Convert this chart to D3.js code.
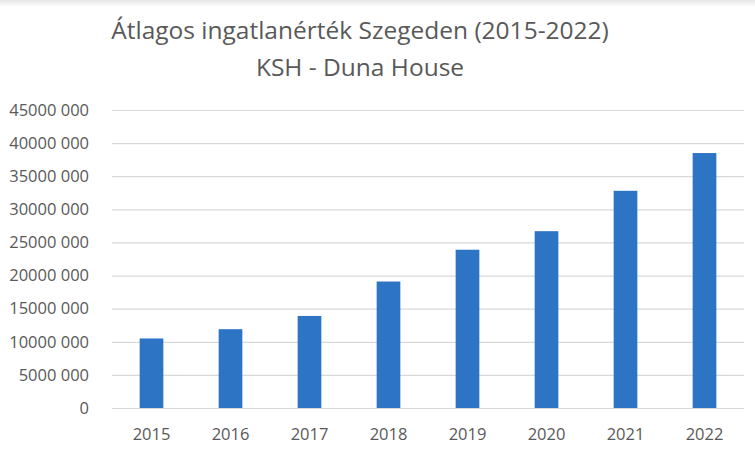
<!DOCTYPE html>
<html>
<head>
<meta charset="utf-8">
<script src="https://cdn.jsdelivr.net/npm/d3@7"></script>
<style>
  html, body { margin: 0; padding: 0; background: #ffffff; }
  svg { display: block; }
  text { font-family: "Open Sans", "Noto Sans", sans-serif; fill: #595959; }
</style>
</head>
<body>
<div id="chart"></div>
<script>
// adatok (Ft)
const years = ["2015", "2016", "2017", "2018", "2019", "2020", "2021", "2022"];
const avgValues = [10500000, 11900000, 13900000, 19100000, 23900000, 26700000, 32800000, 38500000];
const yTicks = [0, 5000000, 10000000, 15000000, 20000000, 25000000, 30000000, 35000000, 40000000, 45000000];
const titleLines = ["Átlagos ingatlanérték Szegeden (2015-2022)", "KSH - Duna House"];

const width = 755, height = 453;
const margin = {top: 110, right: 11, bottom: 45, left: 112};

const svg = d3.select("#chart").append("svg")
    .attr("width", width)
    .attr("height", height);

// halvány árnyék a kép tetején
const grad = svg.append("defs").append("linearGradient")
    .attr("id", "topShade").attr("x1", 0).attr("y1", 0).attr("x2", 0).attr("y2", 1);
grad.append("stop").attr("offset", 0).attr("stop-color", "#e6e6e6");
grad.append("stop").attr("offset", 1).attr("stop-color", "#ffffff");
svg.append("rect").attr("x", 0).attr("y", 0).attr("width", width).attr("height", 7)
    .attr("fill", "url(#topShade)");

const x = d3.scaleBand()
    .domain(years)
    .range([margin.left, width - margin.right])
    .paddingInner(0.7)
    .paddingOuter(0.35);

const y = d3.scaleLinear()
    .domain([0, 45000000])
    .range([height - margin.bottom, margin.top]);

// "45000 000" formátum: csak az utolsó három jegy előtt szóköz
function fmt(v) {
    if (v === 0) return "0";
    const s = String(v);
    return s.slice(0, s.length - 3) + " " + s.slice(-3);
}

// rácsvonalak
const yAxis = d3.axisLeft(y)
    .tickValues(yTicks)
    .tickSize(-(width - margin.right - margin.left))
    .tickFormat(fmt)
    .tickPadding(23);

const gy = svg.append("g")
    .attr("transform", "translate(" + margin.left + ",0)")
    .call(yAxis);
gy.select(".domain").remove();
gy.selectAll(".tick line").attr("stroke", "#d9d9d9").attr("stroke-width", 1.2);
gy.selectAll(".tick text")
    .attr("font-size", 16.5)
    .attr("fill", "#595959");

// oszlopok
svg.append("g")
    .selectAll("rect")
    .data(avgValues)
    .enter()
    .append("rect")
    .attr("x", function (d, i) { return x(years[i]); })
    .attr("y", function (d) { return y(d); })
    .attr("width", x.bandwidth())
    .attr("height", function (d) { return y(0) - y(d); })
    .attr("fill", "#2e74c5");

// x tengely feliratai
const xAxis = d3.axisBottom(x).tickSize(0).tickPadding(20);
const gx = svg.append("g")
    .attr("transform", "translate(0," + y(0) + ")")
    .call(xAxis);
gx.select(".domain").remove();
gx.selectAll(".tick text")
    .attr("font-size", 16.5)
    .attr("fill", "#595959");

// cím
svg.append("g")
    .selectAll("text")
    .data(titleLines)
    .enter()
    .append("text")
    .attr("x", 360)
    .attr("y", function (d, i) { return 39 + i * 37; })
    .attr("text-anchor", "middle")
    .attr("font-size", 24.5)
    .text(function (d) { return d; });
</script>
</body>
</html>
